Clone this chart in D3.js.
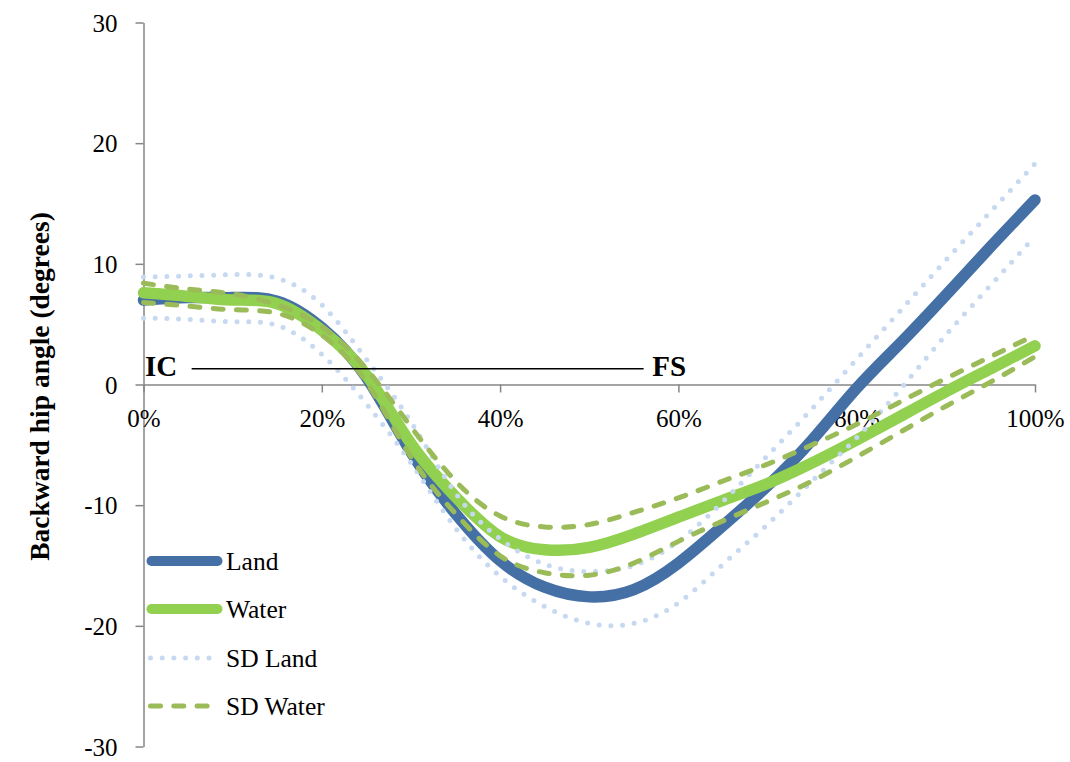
<!DOCTYPE html>
<html>
<head>
<meta charset="utf-8">
<script src="https://cdn.jsdelivr.net/npm/d3@7"></script>
<style>
  html, body { margin: 0; padding: 0; background: #fff; }
  svg { display: block; font-family: "Liberation Serif", "Times New Roman", serif; }
</style>
</head>
<body>
<svg id="chart" width="1070" height="762"></svg>
<script>
// Gait cycle (% of stride), sampled every 5 %
const cycle = [0, 5, 10, 15, 20, 25, 30, 35, 40, 45, 50, 55, 60, 65, 70, 75, 80, 85, 90, 95, 100];

// Mean backward hip angle (degrees)
const land  = [7.0, 7.2, 7.2, 6.9, 4.7, 0.6, -5.6, -10.7, -14.6, -16.8, -17.6, -17.0, -14.8, -11.7, -8.4, -4.6, -0.3, 3.5, 7.4, 11.4, 15.3];
const water = [7.6, 7.3, 7.0, 6.7, 4.5, 0.8, -4.9, -9.3, -12.6, -13.7, -13.5, -12.4, -11.0, -9.6, -8.2, -6.5, -4.6, -2.6, -0.6, 1.3, 3.2];

// Mean ± one standard deviation
const sdLandUpper  = [8.9, 9.0, 9.1, 8.8, 6.6, 2.1, -3.1, -9.0, -12.8, -14.9, -15.5, -15.0, -13.0, -9.7, -5.9, -2.0, 2.1, 6.2, 10.3, 14.3, 18.3];
const sdLandLower  = [5.5, 5.4, 5.2, 4.9, 2.5, -1.6, -6.5, -11.9, -15.9, -18.4, -19.8, -19.8, -18.1, -14.9, -11.6, -8.0, -4.4, -0.3, 4.1, 8.2, 12.3];
const sdWaterUpper = [8.4, 7.9, 7.5, 6.6, 4.8, 1.3, -3.5, -8.0, -10.9, -11.8, -11.6, -10.6, -9.4, -8.0, -6.6, -5.0, -3.3, -1.4, 0.5, 2.3, 4.1];
const sdWaterLower = [6.8, 6.5, 6.2, 5.9, 4.1, 0.2, -6.0, -10.7, -14.2, -15.6, -15.8, -14.8, -13.0, -11.3, -9.7, -8.0, -6.0, -3.9, -1.8, 0.2, 2.3];

// Axis ticks
const xTicks = [0, 20, 40, 60, 80, 100];
const yTicks = [-30, -20, -10, 0, 10, 20, 30];

// Phase markers: initial contact and foot strike
const phaseLabels = ["IC", "FS"];
const phaseAt = [0, 56.9];
const phaseLevel = 1.3;

const legendNames = ["Land", "Water", "SD Land", "SD Water"];

const svg = d3.select("#chart");

const x = d3.scaleLinear().domain([0, 100]).range([143.5, 1035]);
const y = d3.scaleLinear().domain([-30, 30]).range([746.5, 22.5]);

const axisColor = "#868686";
const fontStack = "'Liberation Serif', 'Times New Roman', serif";

// Y axis
const gy = svg.append("g")
  .attr("transform", `translate(${x(0)},0)`)
  .call(d3.axisLeft(y).tickValues(yTicks).tickSize(8).tickSizeOuter(0).tickFormat(d => String(d)));
gy.select(".domain").attr("stroke", axisColor).attr("stroke-width", 1.5);
gy.selectAll(".tick line").attr("stroke", axisColor).attr("stroke-width", 1.5);
gy.selectAll(".tick text")
  .attr("x", -26).attr("dy", "0.34em")
  .attr("fill", "#000")
  .style("font-family", fontStack)
  .style("font-size", "25px");

// X axis drawn along zero
const gx = svg.append("g")
  .attr("transform", `translate(0,${y(0)})`)
  .call(d3.axisBottom(x).tickValues(xTicks).tickSize(8).tickSizeOuter(0).tickFormat(d => d + "%"));
gx.select(".domain").attr("stroke", axisColor).attr("stroke-width", 1.5);
gx.selectAll(".tick line").attr("stroke", axisColor).attr("stroke-width", 1.5);
gx.selectAll(".tick text")
  .attr("y", 42.5).attr("dy", 0)
  .attr("fill", "#000")
  .style("font-family", fontStack)
  .style("font-size", "25px");

// Y axis title
svg.append("text")
  .attr("transform", `translate(49,${(y(30) + y(-30)) / 2 + 2}) rotate(-90)`)
  .attr("text-anchor", "middle")
  .style("font-size", "27.5px")
  .style("font-weight", "bold")
  .text("Backward hip angle (degrees)");

// Series styles
const series = [
  { name: "Land",     values: land,         color: "#4470a6", width: 11.5, dash: null },
  { name: "Water",    values: water,        color: "#92d050", width: 11.5, dash: null },
  { name: "SD Land",  values: sdLandUpper,  color: "#c6d9f1", width: 5,    dash: "0 11.7" },
  { name: "SD Land",  values: sdLandLower,  color: "#c6d9f1", width: 5,    dash: "0 11.7" },
  { name: "SD Water", values: sdWaterUpper, color: "#9bbb59", width: 5,    dash: "10 13.3" },
  { name: "SD Water", values: sdWaterLower, color: "#9bbb59", width: 5,    dash: "10 13.3" }
];

const line = d3.line()
  .x((d, i) => x(cycle[i]))
  .y(d => y(d))
  .curve(d3.curveNatural);

svg.append("g").selectAll("path")
  .data(series)
  .join("path")
  .attr("d", s => line(s.values))
  .attr("fill", "none")
  .attr("stroke", s => s.color)
  .attr("stroke-width", s => s.width)
  .attr("stroke-linecap", "round")
  .attr("stroke-linejoin", "round")
  .attr("stroke-dasharray", s => s.dash);

// Phase annotation: IC ——— FS
const py = y(phaseLevel);
svg.append("line")
  .attr("x1", x(5.4)).attr("x2", x(56.1))
  .attr("y1", py).attr("y2", py)
  .attr("stroke", "#000").attr("stroke-width", 1.5);
svg.selectAll("text.phase")
  .data(phaseLabels)
  .join("text")
  .attr("class", "phase")
  .attr("x", (d, i) => x(phaseAt[i]) + 1.5)
  .attr("y", py + 7.5)
  .style("font-size", "29px")
  .style("font-weight", "bold")
  .text(d => d);

// Legend
const legendStyles = [series[0], series[1], series[2], series[4]];
const legendY = [561, 609, 658, 706];
const lg = svg.append("g");
legendNames.forEach((name, i) => {
  const s = legendStyles[i];
  const solid = !s.dash;
  lg.append("line")
    .attr("x1", solid ? 151.5 : 150.5)
    .attr("x2", solid ? 217.5 : 220)
    .attr("y1", legendY[i]).attr("y2", legendY[i])
    .attr("stroke", s.color)
    .attr("stroke-width", solid ? 10 : 5)
    .attr("stroke-linecap", "round")
    .attr("stroke-dasharray", s.dash);
  lg.append("text")
    .attr("x", 226)
    .attr("y", legendY[i] + 8.5)
    .style("font-size", "25.5px")
    .text(name);
});
</script>
</body>
</html>
